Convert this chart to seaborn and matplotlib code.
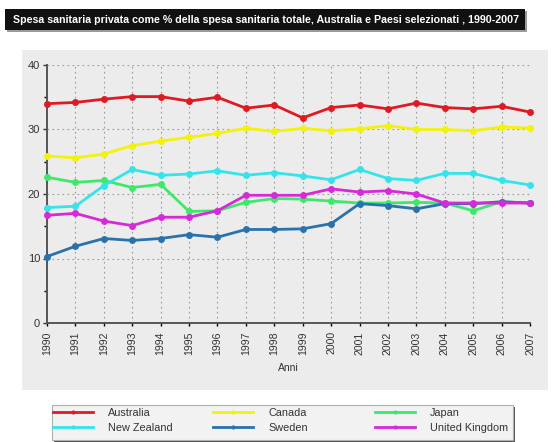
import matplotlib
matplotlib.use("Agg")
import matplotlib.pyplot as plt
from matplotlib.patches import Rectangle
from matplotlib.lines import Line2D
from matplotlib.ticker import MultipleLocator
import seaborn as sns
import pandas as pd

years = list(range(1990, 2008))

australia = [34.0, 34.2, 34.7, 35.1, 35.1, 34.4, 35.0, 33.3, 33.8, 31.8,
             33.4, 33.8, 33.2, 34.1, 33.4, 33.2, 33.6, 32.7]
canada = [25.9, 25.6, 26.2, 27.5, 28.2, 28.8, 29.4, 30.2, 29.7, 30.2,
          29.8, 30.1, 30.6, 30.0, 30.0, 29.8, 30.4, 30.2]
japan = [22.6, 21.8, 22.1, 21.0, 21.5, 17.3, 17.4, 18.7, 19.3, 19.2,
         18.9, 18.6, 18.6, 18.7, 18.6, 17.4, 18.8, 18.6]
new_zealand = [17.9, 18.1, 21.3, 23.8, 22.9, 23.1, 23.6, 22.9, 23.3, 22.8,
               22.2, 23.8, 22.4, 22.1, 23.2, 23.2, 22.1, 21.4]
sweden = [10.3, 11.9, 13.1, 12.8, 13.1, 13.7, 13.3, 14.5, 14.5, 14.6,
          15.4, 18.5, 18.2, 17.7, 18.5, 18.5, 18.8, 18.6]
united_kingdom = [16.7, 17.0, 15.8, 15.1, 16.4, 16.4, 17.4, 19.8, 19.8, 19.8,
                  20.8, 20.3, 20.5, 20.0, 18.6, 18.6, 18.6, 18.6]

countries = ["Australia", "Canada", "Japan", "New Zealand", "Sweden", "United Kingdom"]
series = [australia, canada, japan, new_zealand, sweden, united_kingdom]
colors = {
    "Australia": "#e01a22",
    "Canada": "#f2f20a",
    "Japan": "#3ee86a",
    "New Zealand": "#35e4ea",
    "Sweden": "#2a72ac",
    "United Kingdom": "#d62ad8",
}

title = ("Spesa sanitaria privata come % della spesa sanitaria totale, "
         "Australia e Paesi selezionati , 1990-2007")
x_label = "Anni"

df = pd.DataFrame({
    "Anno": years * len(countries),
    "Valore": [v for s in series for v in s],
    "Paese": [c for c in countries for _ in years],
})

plt.rcParams["font.family"] = ["Liberation Sans", "DejaVu Sans"]

W, H = 556, 442
fig = plt.figure(figsize=(W / 100, H / 100), dpi=100)
fig.patch.set_facecolor("white")

# grey panel behind the chart
fig.patches.append(Rectangle((22 / W, 1 - 390 / H), 526 / W, 340 / H,
                             transform=fig.transFigure, facecolor="#ececec",
                             edgecolor="none", zorder=0))

# title bar with a soft shadow
fig.patches.append(Rectangle((7 / W, 1 - 32 / H), 520 / W, 21 / H,
                             transform=fig.transFigure, facecolor="#9a9a9a",
                             edgecolor="none", zorder=0))
fig.patches.append(Rectangle((5 / W, 1 - 30 / H), 520 / W, 21 / H,
                             transform=fig.transFigure, facecolor="#111111",
                             edgecolor="none", zorder=1))
fig.text(266 / W, 1 - 20 / H, title, color="white", fontsize=7.7,
         fontweight="bold", ha="center", va="center", zorder=2)

ax = fig.add_axes([47 / W, 1 - 323 / H, 483 / W, 258 / H])
ax.set_zorder(5)
ax.set_facecolor("none")

for c in countries:
    sub = df[df["Paese"] == c]
    sns.lineplot(data=sub, x="Anno", y="Valore", ax=ax, color=colors[c],
                 marker="o", markersize=5, markeredgewidth=0, linewidth=2,
                 label=c, clip_on=False, zorder=3, legend=False)

ax.set_xlim(1990, 2007)
ax.set_ylim(0, 40)
ax.set_xticks(years)
ax.set_xticklabels([str(y) for y in years], rotation=90, fontsize=7.6,
                   color="#333333")
ax.yaxis.set_major_locator(MultipleLocator(10))
ax.yaxis.set_minor_locator(MultipleLocator(5))
ax.tick_params(axis="y", labelsize=8, colors="#333333", length=3, width=1,
               pad=2)
ax.tick_params(axis="y", which="minor", length=2, width=1)
ax.tick_params(axis="x", length=2, width=1, pad=4)
ax.set_xlabel(x_label, fontsize=7.5, color="#333333", labelpad=6)
ax.set_ylabel("")
ax.grid(True, which="major", color="#9a9a9a", linestyle=(0, (1.5, 3)),
        linewidth=0.8)
for side in ("top", "right"):
    ax.spines[side].set_visible(False)
for side in ("left", "bottom"):
    ax.spines[side].set_color("#555555")
    ax.spines[side].set_linewidth(1.4)

# legend frame with shadow
fig.patches.append(Rectangle((54 / W, 1 - 443 / H), 461 / W, 36 / H,
                             transform=fig.transFigure, facecolor="#555555",
                             edgecolor="none", zorder=0))
fig.patches.append(Rectangle((52 / W, 1 - 440 / H), 461 / W, 35 / H,
                             transform=fig.transFigure, facecolor="#f2f2f2",
                             edgecolor="#b0b0b0", linewidth=0.8, zorder=1))

columns = [["Australia", "New Zealand"], ["Canada", "Sweden"],
           ["Japan", "United Kingdom"]]
col_x = [53, 213, 375]
for names, x0 in zip(columns, col_x):
    handles = [Line2D([], [], color=colors[n], linewidth=2, marker="o",
                      markersize=3, markeredgewidth=0) for n in names]
    leg = fig.legend(handles, names, loc="upper left",
                     bbox_to_anchor=(x0 / W, 1 - 408 / H), frameon=False,
                     fontsize=7.8, handlelength=3.7, handletextpad=1.4,
                     labelspacing=0.45, borderpad=0, borderaxespad=0)
    leg.set_zorder(6)
    for t in leg.get_texts():
        t.set_color("#333333")

fig.savefig("out.png", dpi=100)
